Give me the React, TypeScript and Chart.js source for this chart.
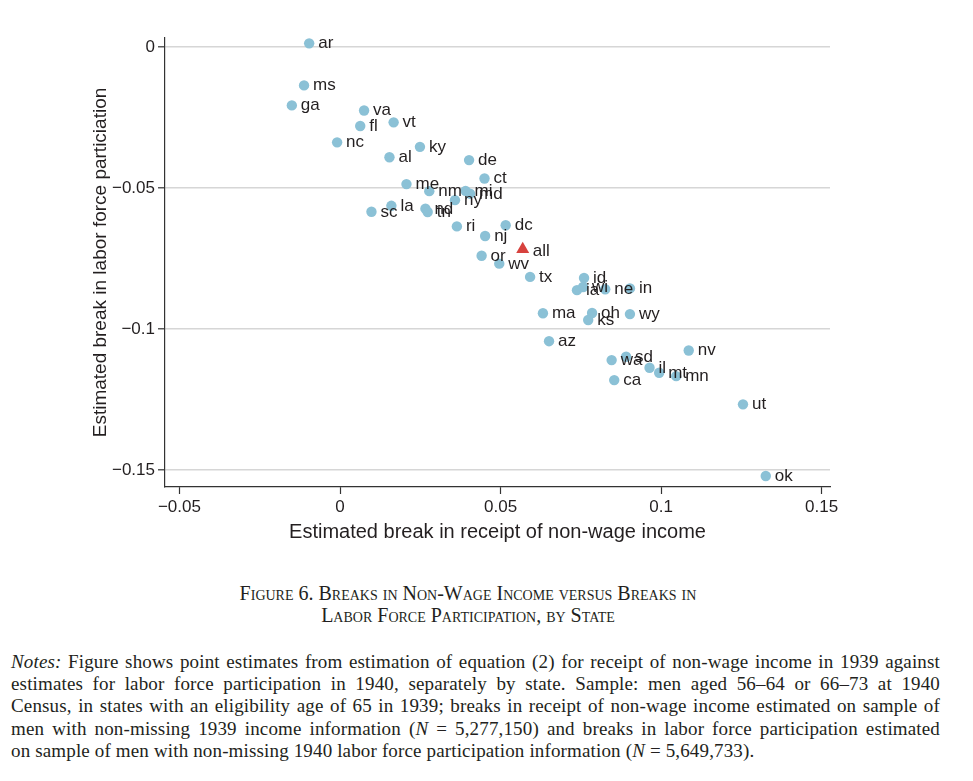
import React, { useEffect, useRef } from "react";
import { Chart, registerables } from "chart.js";

Chart.register(...registerables);

// ---- data ----
const STATES = ["ar","ms","ga","va","fl","vt","nc","al","ky","de","ct","me","nm","mi","md","ny","la","sc","nd","tn","ri","dc","nj","or","wv","tx","id","ia","wi","ne","in","ma","oh","ks","wy","az","nv","wa","sd","il","mt","mn","ca","ut","ok"];
const NONWAGE_BREAK = [-0.0096,-0.0112,-0.0150,0.0075,0.0063,0.0167,-0.0009,0.0154,0.0249,0.0402,0.0450,0.0207,0.0278,0.0391,0.0405,0.0358,0.0160,0.0098,0.0266,0.0273,0.0364,0.0516,0.0452,0.0441,0.0496,0.0592,0.0760,0.0738,0.0757,0.0826,0.0903,0.0632,0.0785,0.0773,0.0903,0.0651,0.1086,0.0846,0.0891,0.0964,0.0994,0.1047,0.0854,0.1255,0.1326];
const LFP_BREAK = [0.0013,-0.0136,-0.0207,-0.0225,-0.0280,-0.0267,-0.0338,-0.0391,-0.0354,-0.0401,-0.0466,-0.0486,-0.0511,-0.0510,-0.0520,-0.0543,-0.0563,-0.0584,-0.0573,-0.0585,-0.0636,-0.0632,-0.0670,-0.0740,-0.0768,-0.0815,-0.0819,-0.0862,-0.0851,-0.0859,-0.0856,-0.0944,-0.0943,-0.0968,-0.0947,-0.1043,-0.1076,-0.1110,-0.1098,-0.1137,-0.1155,-0.1167,-0.1181,-0.1267,-0.1521];
const ALL_LABEL = ["all"];
const ALL_NONWAGE = [0.0569];
const ALL_LFP = [-0.0717];

const X_TICKS = [-0.05, 0, 0.05, 0.1, 0.15];
const X_TICK_LABELS = ["\u22120.05", "0", "0.05", "0.1", "0.15"];
const Y_TICKS = [0, -0.05, -0.1, -0.15];
const Y_TICK_LABELS = ["0", "\u22120.05", "\u22120.1", "\u22120.15"];

const X_TITLE = "Estimated break in receipt of non-wage income";
const Y_TITLE = "Estimated break in labor force particiation";

const X_MIN = -0.0545;
const X_MAX = 0.1526;
const Y_MIN = -0.1560;
const Y_MAX = 0.0032;

const SANS = '"Liberation Sans", Arial, Helvetica, sans-serif';
const INK = "#231f20";

function labelFor(ticks: number[], labels: string[], v: number) {
  const i = ticks.findIndex((t) => Math.abs(t - v) < 1e-9);
  return i >= 0 ? labels[i] : "";
}

const pointLabelPlugin = {
  id: "pointLabels",
  afterDatasetsDraw(chart: any) {
    const ctx = chart.ctx;
    ctx.save();
    ctx.font = `17px ${SANS}`;
    ctx.fillStyle = INK;
    ctx.textBaseline = "alphabetic";
    ctx.textAlign = "left";
    chart.data.datasets.forEach((_ds: any, di: number) => {
      const meta = chart.getDatasetMeta(di);
      const labels = di === 0 ? STATES : ALL_LABEL;
      const off = di === 0 ? 9 : 10;
      meta.data.forEach((el: any, i: number) => {
        ctx.fillText(labels[i], el.x + off, el.y + 5 + (di === 1 ? 2 : 0));
      });
    });
    ctx.restore();
  },
};

function ScatterChart() {
  const ref = useRef<HTMLCanvasElement | null>(null);
  useEffect(() => {
    if (!ref.current) return;
    const chart = new Chart(ref.current, {
      type: "scatter",
      data: {
        datasets: [
          {
            data: STATES.map((_, i) => ({ x: NONWAGE_BREAK[i], y: LFP_BREAK[i] })),
            pointRadius: 5.2,
            pointBackgroundColor: "#8bc1d6",
            pointBorderWidth: 0,
            pointHoverRadius: 5.2,
          },
          {
            data: ALL_LABEL.map((_, i) => ({ x: ALL_NONWAGE[i], y: ALL_LFP[i] })),
            pointStyle: "triangle",
            pointRadius: 7.5,
            pointBackgroundColor: "#d7423e",
            pointBorderWidth: 0,
            pointHoverRadius: 7.5,
          },
        ],
      },
      options: {
        responsive: false,
        animation: false,
        events: [],
        layout: { padding: { top: 30, right: 135, left: 0, bottom: 0 } },
        plugins: { legend: { display: false }, tooltip: { enabled: false } },
        scales: {
          x: {
            type: "linear",
            min: X_MIN,
            max: X_MAX,
            afterBuildTicks: (s: any) => {
              s.ticks = X_TICKS.map((v) => ({ value: v }));
            },
            afterFit: (s: any) => {
              s.height = 81;
            },
            ticks: {
              callback: (v: any) => labelFor(X_TICKS, X_TICK_LABELS, Number(v)),
              font: { family: SANS, size: 17 },
              color: INK,
              padding: 3,
              maxRotation: 0,
            },
            grid: { drawOnChartArea: false, tickLength: 7, tickColor: "#333", tickWidth: 1.2 },
            border: { color: "#333", width: 1.2 },
            title: {
              display: true,
              text: X_TITLE,
              font: { family: SANS, size: 20 },
              color: INK,
              padding: { top: 0, bottom: 24 },
            },
          },
          y: {
            type: "linear",
            min: Y_MIN,
            max: Y_MAX,
            afterBuildTicks: (s: any) => {
              s.ticks = Y_TICKS.map((v) => ({ value: v }));
            },
            afterFit: (s: any) => {
              s.width = 157;
            },
            ticks: {
              callback: (v: any) => labelFor(Y_TICKS, Y_TICK_LABELS, Number(v)),
              font: { family: SANS, size: 17 },
              color: INK,
              padding: 3,
            },
            grid: { color: "#d6d6d6", lineWidth: 1.6, tickLength: 7, tickColor: "#333", tickWidth: 1.2 },
            border: { color: "#333", width: 1.2 },
            title: {
              display: true,
              text: Y_TITLE,
              font: { family: SANS, size: 19 },
              color: INK,
              padding: { top: 81.6, bottom: 0 },
            },
          },
        },
      },
      plugins: [pointLabelPlugin],
    } as any);
    return () => chart.destroy();
  }, []);
  return <canvas ref={ref} width={957} height={560} style={{ display: "block", width: 957, height: 560 }} />;
}

const SERIF = '"Liberation Serif", "Times New Roman", Times, serif';

const NOTE_LINES: React.ReactNode[] = [
  <>
    <i>Notes:</i> Figure shows point estimates from estimation of equation (2) for receipt of non-wage income in 1939 against
  </>,
  <>estimates for labor force participation in 1940, separately by state. Sample: men aged 56–64 or 66–73 at 1940</>,
  <>Census, in states with an eligibility age of 65 in 1939; breaks in receipt of non-wage income estimated on sample of</>,
  <>
    men with non-missing 1939 income information (<i>N</i> = 5,277,150) and breaks in labor force participation estimated
  </>,
  <>
    on sample of men with non-missing 1940 labor force participation information (<i>N</i> = 5,649,733).
  </>,
];

export default function App() {
  return (
    <div style={{ width: 957 }}>
      <ScatterChart />
      <div
        style={{
          width: 920,
          marginTop: 14,
          textAlign: "center",
          fontFamily: SERIF,
          fontVariant: "small-caps",
          fontSize: 20,
          lineHeight: "22px",
          color: "#231f20",
        }}
      >
        <div>Figure 6. Breaks in Non-Wage Income versus Breaks in</div>
        <div>Labor Force Participation, by State</div>
      </div>
      <div
        style={{
          marginTop: 25,
          marginLeft: 3,
          width: 929,
          fontFamily: SERIF,
          fontSize: 19,
          letterSpacing: "0.15px",
          lineHeight: "22.2px",
          color: "#231f20",
        }}
      >
        {NOTE_LINES.map((l, i) => (
          <div
            key={i}
            style={{
              textAlign: i < NOTE_LINES.length - 1 ? "justify" : "left",
              textAlignLast: i < NOTE_LINES.length - 1 ? "justify" : "left",
              whiteSpace: "nowrap",
            }}
          >
            {l}
          </div>
        ))}
      </div>
    </div>
  );
}
